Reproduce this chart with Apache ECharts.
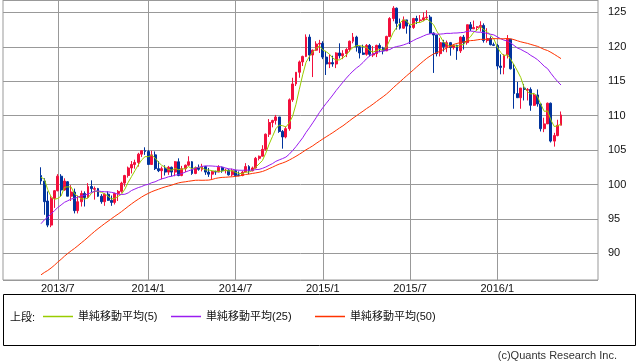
<!DOCTYPE html>
<html>
<head>
<meta charset="utf-8">
<script src="https://cdn.jsdelivr.net/npm/echarts@6/dist/echarts.min.js"></script>
<style>
html,body{margin:0;padding:0;background:#fff;}
#chart{width:638px;height:362px;}
</style>
</head>
<body>
<div id="chart"></div>
<script>
// Weekly candles (week starting Monday)
const dates = [
'2013-05-27','2013-06-03','2013-06-10','2013-06-17','2013-06-24','2013-07-01','2013-07-08','2013-07-15','2013-07-22','2013-07-29',
'2013-08-05','2013-08-12','2013-08-19','2013-08-26','2013-09-02','2013-09-09','2013-09-16','2013-09-23','2013-09-30','2013-10-07',
'2013-10-14','2013-10-21','2013-10-28','2013-11-04','2013-11-11','2013-11-18','2013-11-25','2013-12-02','2013-12-09','2013-12-16',
'2013-12-23','2013-12-30','2014-01-06','2014-01-13','2014-01-20','2014-01-27','2014-02-03','2014-02-10','2014-02-17','2014-02-24',
'2014-03-03','2014-03-10','2014-03-17','2014-03-24','2014-03-31','2014-04-07','2014-04-14','2014-04-21','2014-04-28','2014-05-05',
'2014-05-12','2014-05-19','2014-05-26','2014-06-02','2014-06-09','2014-06-16','2014-06-23','2014-06-30','2014-07-07','2014-07-14',
'2014-07-21','2014-07-28','2014-08-04','2014-08-11','2014-08-18','2014-08-25','2014-09-01','2014-09-08','2014-09-15','2014-09-22',
'2014-09-29','2014-10-06','2014-10-13','2014-10-20','2014-10-27','2014-11-03','2014-11-10','2014-11-17','2014-11-24','2014-12-01',
'2014-12-08','2014-12-15','2014-12-22','2014-12-29','2015-01-05','2015-01-12','2015-01-19','2015-01-26','2015-02-02','2015-02-09',
'2015-02-16','2015-02-23','2015-03-02','2015-03-09','2015-03-16','2015-03-23','2015-03-30','2015-04-06','2015-04-13','2015-04-20',
'2015-04-27','2015-05-04','2015-05-11','2015-05-18','2015-05-25','2015-06-01','2015-06-08','2015-06-15','2015-06-22','2015-06-29',
'2015-07-06','2015-07-13','2015-07-20','2015-07-27','2015-08-03','2015-08-10','2015-08-17','2015-08-24','2015-08-31','2015-09-07',
'2015-09-14','2015-09-21','2015-09-28','2015-10-05','2015-10-12','2015-10-19','2015-10-26','2015-11-02','2015-11-09','2015-11-16',
'2015-11-23','2015-11-30','2015-12-07','2015-12-14','2015-12-21','2015-12-28','2016-01-04','2016-01-11','2016-01-18','2016-01-25',
'2016-02-01','2016-02-08','2016-02-15','2016-02-22','2016-02-29','2016-03-07','2016-03-14','2016-03-21','2016-03-28','2016-04-04',
'2016-04-11','2016-04-18','2016-04-25','2016-05-02','2016-05-09','2016-05-16'];

const opens = [
101.3,100.5,97.6,94.1,98.0,99.1,101.2,99.2,100.4,98.3,
98.9,96.2,97.5,98.7,98.1,99.7,99.3,99.4,98.3,97.5,
98.6,97.7,97.4,98.7,99.0,100.2,101.3,102.4,102.9,103.2,
104.4,104.9,104.8,102.9,104.3,102.3,102.0,102.3,101.8,102.5,
101.8,103.3,101.3,102.3,102.8,103.3,101.6,102.4,102.2,102.6,
101.8,101.5,101.9,101.8,102.5,102.0,102.1,101.4,102.0,101.4,
101.3,101.8,102.6,102.0,102.4,103.8,104.1,105.1,107.3,109.0,
109.3,109.8,107.7,106.9,108.1,112.3,114.6,116.3,117.8,118.6,
121.4,118.8,119.5,120.4,120.5,118.5,117.5,117.7,117.5,119.1,
118.7,119.0,119.6,120.8,121.4,120.0,119.1,118.9,120.2,118.8,
119.0,120.2,119.8,119.4,121.5,124.1,125.6,123.4,122.7,123.9,
123.0,122.8,124.1,123.8,123.9,124.2,124.3,122.0,121.7,119.0,
120.6,120.0,120.6,119.9,120.2,119.4,121.4,120.6,123.2,122.6,
122.8,122.9,123.1,120.9,121.2,120.3,120.2,117.2,117.0,118.8,
121.1,116.8,113.2,112.6,114.0,113.7,113.8,111.5,113.0,111.7,
108.1,108.8,111.8,106.3,107.1,108.6];

const highs = [
102.5,100.9,99.0,98.3,99.2,101.5,101.5,100.9,100.5,99.9,
99.4,98.4,99.1,99.0,100.2,100.6,99.7,99.5,98.6,98.7,
99.0,98.4,98.8,99.2,100.4,101.4,102.6,103.4,103.6,104.6,
105.0,105.4,105.0,104.9,104.8,103.4,102.6,102.8,102.7,102.6,
103.4,103.8,102.7,102.9,104.1,103.4,102.6,102.9,103.0,102.7,
102.4,102.0,102.0,102.8,102.6,102.3,102.2,102.3,102.1,101.9,
102.0,103.1,102.8,102.6,104.0,104.2,105.7,107.4,109.5,109.4,
110.1,109.8,107.9,108.4,112.5,115.5,116.3,118.0,118.7,121.8,
121.8,119.6,120.8,121.0,120.8,119.4,118.9,118.7,119.2,120.5,
119.5,119.8,120.9,122.0,121.6,120.1,120.3,120.4,120.4,120.1,
120.3,120.5,120.0,121.6,124.3,125.9,125.7,124.1,124.4,123.9,
123.2,124.2,124.5,124.6,125.0,125.3,124.6,122.1,121.7,121.3,
121.0,120.9,120.7,120.4,120.3,121.5,121.7,123.2,123.6,123.8,
123.0,123.7,123.4,122.7,121.5,120.6,120.4,118.9,118.9,121.7,
121.1,117.5,114.9,114.0,114.6,114.0,114.1,113.3,113.8,111.8,
109.7,111.9,111.9,107.5,109.4,110.6];

const lows = [
100.0,95.6,93.8,93.8,96.6,99.0,98.2,99.1,98.3,97.6,
95.8,95.8,96.8,96.8,98.0,98.9,97.8,98.2,97.2,96.9,
97.6,96.9,97.1,97.6,98.8,99.7,101.0,101.6,102.3,102.6,
104.0,104.3,102.9,102.9,102.1,101.8,100.75,101.3,101.4,101.2,
101.2,101.2,101.2,101.8,102.7,101.4,101.5,102.0,101.9,101.4,
101.1,100.8,101.4,101.8,101.7,101.6,101.3,101.2,101.1,101.2,
101.2,101.8,101.5,101.9,102.3,103.5,104.1,104.9,106.9,108.3,
108.7,107.5,105.2,106.7,107.8,112.0,114.3,115.5,117.2,118.5,
117.9,115.6,119.4,119.1,118.2,115.9,116.9,117.1,116.9,118.3,
118.2,118.5,119.3,120.5,119.3,118.3,118.8,118.7,118.6,118.5,
118.5,119.2,118.9,119.4,121.4,123.7,122.5,122.5,122.6,121.9,
120.4,122.6,123.3,123.6,123.7,123.9,121.9,116.2,118.6,118.6,
119.3,119.2,118.7,119.6,118.1,119.1,119.6,120.3,122.3,122.6,
122.4,122.2,120.6,120.6,120.2,120.1,116.7,116.0,116.0,118.3,
116.7,111.0,112.6,111.0,112.2,112.2,110.7,111.4,111.3,107.7,
107.6,108.8,106.1,105.5,107.0,108.6];

const closes = [
100.5,97.5,94.1,98.0,99.1,101.2,99.2,100.5,98.3,98.9,
96.2,97.5,98.7,98.1,99.7,99.4,99.4,98.3,97.5,98.6,
97.7,97.4,98.7,99.0,100.2,101.3,102.4,102.9,103.2,104.4,
104.9,104.8,102.9,104.3,102.3,102.0,102.3,101.8,102.5,101.8,
103.3,101.3,102.3,102.8,103.3,101.6,102.4,102.2,102.6,101.8,
101.5,101.9,101.8,102.5,102.0,102.1,101.4,102.0,101.3,101.3,
101.8,102.6,102.0,102.4,103.8,104.1,105.1,107.3,109.0,109.3,
109.8,107.7,106.9,108.1,112.3,114.6,116.3,117.8,118.6,121.4,
118.8,119.5,120.4,120.5,118.5,117.5,117.7,117.5,119.1,118.7,
119.0,119.6,120.8,121.4,120.0,119.1,118.9,120.2,118.9,119.0,
120.2,119.8,119.4,121.5,124.1,125.6,123.4,122.7,123.9,123.0,
122.8,124.1,123.8,123.9,124.2,124.3,122.0,121.7,119.0,120.6,
120.0,120.6,119.9,120.2,119.4,121.4,120.6,123.2,122.6,122.8,
122.9,123.1,120.9,121.2,120.3,120.2,117.2,117.0,118.8,121.1,
116.8,113.2,112.6,114.0,113.8,113.8,111.5,113.0,111.7,108.1,
108.8,111.8,106.3,107.1,108.6,110.1];

const ma5 = [
101.06,100.76,99.26,98.22,97.84,97.98,98.32,99.60,99.66,99.62,
98.62,98.28,97.92,97.88,98.04,98.68,99.06,98.98,98.86,98.64,
98.30,97.90,97.98,98.28,98.60,99.32,100.32,101.16,102.00,102.84,
103.56,104.04,104.04,104.26,103.84,103.26,102.76,102.54,102.18,102.08,
102.34,102.14,102.24,102.30,102.60,102.26,102.48,102.46,102.42,102.12,
102.10,102.00,101.92,101.90,101.94,102.06,101.96,102.00,101.76,101.62,
101.56,101.80,101.80,102.02,102.52,102.98,103.48,104.54,105.86,106.96,
108.10,108.62,108.54,108.36,108.96,109.92,111.64,113.82,115.92,117.74,
118.58,119.22,119.74,120.12,119.54,119.28,118.92,118.34,118.06,118.10,
118.40,118.78,119.44,119.90,120.16,120.18,120.04,119.92,119.42,119.22,
119.44,119.62,119.46,119.98,121.00,122.08,122.80,123.46,123.94,123.72,
123.16,123.30,123.52,123.52,123.76,124.06,123.64,123.22,122.24,121.52,
120.66,120.38,120.02,120.26,120.02,120.30,120.30,120.96,121.44,122.12,
122.42,122.92,122.46,122.18,121.68,121.14,119.96,119.18,118.70,118.86,
118.18,117.38,116.50,115.54,114.08,113.48,113.14,113.22,112.76,111.62,
110.62,110.68,109.34,108.42,108.52,108.78];

const ma25 = [
94.30,94.86,95.26,95.74,96.18,96.66,97.03,97.41,97.64,97.89,
98.00,98.16,98.36,98.45,98.62,98.82,99.03,99.06,98.98,98.94,
98.93,98.86,98.75,98.58,98.55,98.58,98.78,99.13,99.34,99.55,
99.70,99.92,100.02,100.26,100.39,100.62,100.82,100.94,101.12,101.20,
101.36,101.43,101.59,101.80,101.99,102.15,102.35,102.49,102.63,102.70,
102.70,102.68,102.64,102.61,102.52,102.40,102.27,102.23,102.11,102.07,
102.06,102.08,102.08,102.08,102.16,102.19,102.34,102.54,102.79,103.03,
103.36,103.57,103.76,103.98,104.40,104.92,105.50,106.14,106.78,107.56,
108.23,108.95,109.69,110.46,111.14,111.77,112.38,113.00,113.66,114.26,
114.86,115.44,115.98,116.47,116.90,117.27,117.72,118.25,118.68,118.95,
119.18,119.32,119.38,119.50,119.60,119.88,120.03,120.12,120.26,120.44,
120.65,120.91,121.16,121.35,121.57,121.78,121.88,121.92,121.82,121.84,
121.88,121.95,121.94,121.99,122.00,122.05,122.08,122.24,122.28,122.23,
122.12,122.11,122.04,121.93,121.82,121.72,121.44,121.17,120.96,120.84,
120.54,120.19,119.82,119.62,119.35,119.10,118.74,118.46,118.12,117.67,
117.17,116.82,116.14,115.52,114.95,114.44];

const ma50 = [
86.88,87.22,87.51,87.87,88.27,88.73,89.14,89.59,89.99,90.37,
90.72,91.11,91.52,91.91,92.34,92.77,93.19,93.58,93.95,94.33,
94.67,95.03,95.38,95.71,96.06,96.44,96.82,97.19,97.54,97.86,
98.18,98.47,98.71,98.95,99.14,99.31,99.49,99.65,99.78,99.91,
100.09,100.23,100.33,100.39,100.47,100.54,100.61,100.62,100.61,100.62,
100.64,100.73,100.88,100.97,101.03,101.05,101.09,101.12,101.18,101.23,
101.34,101.45,101.51,101.60,101.68,101.77,101.89,102.07,102.30,102.51,
102.75,102.96,103.12,103.31,103.55,103.81,104.09,104.39,104.70,105.04,
105.32,105.61,105.96,106.28,106.61,106.92,107.23,107.54,107.87,108.21,
108.52,108.89,109.26,109.63,109.97,110.32,110.65,111.01,111.33,111.68,
112.05,112.41,112.76,113.14,113.58,114.05,114.49,114.91,115.36,115.79,
116.21,116.64,117.08,117.51,117.92,118.32,118.66,118.95,119.15,119.37,
119.58,119.83,120.09,120.34,120.48,120.61,120.70,120.81,120.89,120.92,
121.00,121.07,121.08,121.09,121.13,121.18,121.17,121.16,121.16,121.21,
121.16,121.03,120.87,120.72,120.60,120.49,120.34,120.20,120.06,119.84,
119.61,119.45,119.19,118.90,118.59,118.28];

const tickDates = ['2013-07-01','2014-01-06','2014-07-07','2015-01-05','2015-07-06','2016-01-04'];
const tickLabels = ['2013/7','2014/1','2014/7','2015/1','2015/7','2016/1'];
const seriesNames = ['単純移動平均(5)','単純移動平均(25)','単純移動平均(50)'];
const legendTitle = '上段:';
const copyright = '(c)Quants Research Inc.';

const FONT = "'Liberation Sans','Noto Sans CJK JP',sans-serif";
const UP = '#f2103c', DOWN = '#00339c';
const C5 = '#99cc00', C25 = '#9a1cf0', C50 = '#ff3300';
const YMIN = 86.13, YMAX = 126.79;

const candleData = opens.map((o, i) => [o, closes[i], lows[i], highs[i]]);
const isTick = (idx, val) => tickDates.indexOf(val) >= 0;

const chart = echarts.init(document.getElementById('chart'), null, {renderer: 'canvas'});
const legendCommon = {
  top: 311, padding: 0, icon: 'rect', itemWidth: 30, itemHeight: 1.5,
  selectedMode: false,
  textStyle: {fontSize: 11, color: '#111', fontFamily: FONT}
};
chart.setOption({
  animation: false,
  backgroundColor: '#ffffff',
  textStyle: {fontFamily: FONT},
  grid: [
    {left: 3, right: 40, top: 0, bottom: 82, show: true, borderColor: '#999', borderWidth: 1, backgroundColor: 'transparent'},
    {left: 41, right: 77, top: 0, bottom: 82}
  ],
  xAxis: [
    {gridIndex: 0, type: 'value', min: 0, max: 1, show: false},
    {gridIndex: 1, type: 'category', data: dates, boundaryGap: false,
     axisLine: {show: false}, axisTick: {show: false},
     splitLine: {show: true, interval: isTick, lineStyle: {color: '#999', width: 1}},
     axisLabel: {interval: isTick, margin: 3, fontSize: 11, color: '#111', fontFamily: FONT,
       formatter: v => tickLabels[tickDates.indexOf(v)] || ''}}
  ],
  yAxis: [
    {gridIndex: 0, type: 'value', position: 'right', min: YMIN, max: YMAX, splitNumber: 8,
     axisLine: {show: false},
     axisTick: {show: true, length: 6, lineStyle: {color: '#999'}},
     splitLine: {show: true, lineStyle: {color: '#999', width: 1}},
     axisLabel: {showMinLabel: false, showMaxLabel: false, margin: 10, fontSize: 11, color: '#111', fontFamily: FONT}},
    {gridIndex: 1, type: 'value', min: YMIN, max: YMAX, show: false}
  ],
  legend: [
    Object.assign({data: [seriesNames[0]], left: 43}, legendCommon),
    Object.assign({data: [seriesNames[1]], left: 171}, legendCommon),
    Object.assign({data: [seriesNames[2]], left: 315}, legendCommon)
  ],
  graphic: [
    {type: 'rect', shape: {x: 3.5, y: 294.5, width: 632, height: 51},
     style: {fill: 'none', stroke: '#000', lineWidth: 1}, silent: true},
    {type: 'text', x: 10, y: 318, silent: true,
     style: {text: legendTitle, fill: '#111', font: "11px " + FONT, align: 'left', verticalAlign: 'middle'}},
    {type: 'text', x: 617, y: 356, silent: true,
     style: {text: copyright, fill: '#333', font: "11px " + FONT, align: 'right', verticalAlign: 'middle'}}
  ],
  series: [
    {type: 'candlestick', name: 'OHLC', xAxisIndex: 1, yAxisIndex: 1, data: candleData,
     barWidth: 2.4, clip: false,
     itemStyle: {color: UP, color0: DOWN, borderColor: UP, borderColor0: DOWN, borderWidth: 1}},
    {type: 'line', name: seriesNames[0], xAxisIndex: 1, yAxisIndex: 1, data: ma5, symbol: 'none',
     lineStyle: {color: C5, width: 1}, itemStyle: {color: C5}},
    {type: 'line', name: seriesNames[1], xAxisIndex: 1, yAxisIndex: 1, data: ma25, symbol: 'none',
     lineStyle: {color: C25, width: 1}, itemStyle: {color: C25}},
    {type: 'line', name: seriesNames[2], xAxisIndex: 1, yAxisIndex: 1, data: ma50, symbol: 'none',
     lineStyle: {color: C50, width: 1}, itemStyle: {color: C50}}
  ]
});
</script>
</body>
</html>
